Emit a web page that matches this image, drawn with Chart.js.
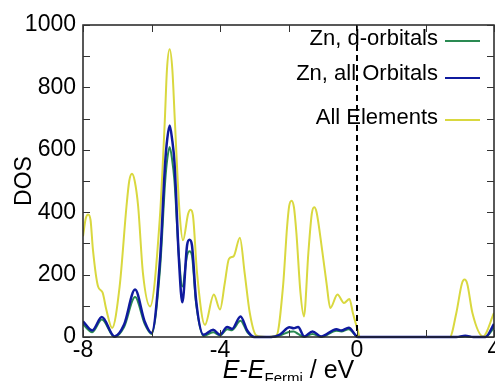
<!DOCTYPE html>
<html>
<head>
<meta charset="utf-8">
<script src="https://cdn.jsdelivr.net/npm/chart.js@4.4.1/dist/chart.umd.min.js"></script>
<style>
  html, body { margin: 0; padding: 0; background: #fff; }
  canvas { display: block; }
</style>
</head>
<body>
<canvas id="dosChart" width="495" height="381"></canvas>
<script>
// Energies (eV, relative to the Fermi level) and DOS values
const energyAll = [-8.0, -7.92, -7.85, -7.78, -7.71, -7.56, -7.43, -7.32, -7.15, -6.93, -6.73, -6.65, -6.57, -6.49,
  -6.39, -6.25, -6.04, -5.76, -5.61, -5.55, -5.47, -5.39, -5.32, -5.18, -5.08, -4.93, -4.86, -4.79, -4.67,
  -4.44, -4.18, -4.0, -3.86, -3.74, -3.6, -3.42, -3.28, -3.13, -2.94, -2.65, -2.35, -2.16, -2.04, -1.98,
  -1.91, -1.84, -1.77, -1.65, -1.55, -1.42, -1.32, -1.25, -1.18, -1.02, -0.89, -0.78, -0.57, -0.38,
  -0.22, -0.12, 0.03, 0.08, 2.71, 2.9, 3.06, 3.14, 3.22, 3.37, 3.68, 4.0];
const dosAll = [323, 380, 393, 375, 280, 162, 143, 88, 29, 162, 419, 500, 523, 500,
  419, 205, 98, 376, 697, 855, 922, 855, 697, 398, 310, 395, 408, 390, 205,
  39, 136, 88, 173, 250, 259, 318, 205, 77, 5, 0, 5, 162, 355, 420,
  437, 415, 334, 141, 66, 270, 395, 416, 400, 280, 173, 93, 136, 109,
  122, 77, 18, 0, 0, 77, 170, 184, 170, 77, 2, 77];

const energyZn = [-8.0, -7.73, -7.45, -7.08, -6.8, -6.48, -6.2, -6.0, -5.75, -5.6, -5.54, -5.47, -5.40,
  -5.33, -5.2, -5.1, -4.96, -4.89, -4.82, -4.7, -4.48, -4.2, -4.0, -3.79, -3.65, -3.4, -3.2, -3.0, -2.5,
  -2.25, -1.97, -1.85, -1.72, -1.54, -1.3, -1.05, -0.6, -0.46, -0.24, 0.03, 2.9, 3.16, 3.4, 3.75, 4.0];
const dosZnAll = [50, 21, 64, 2, 40, 152, 50, 13, 250, 560, 635, 678, 635,
  560, 250, 111, 295, 312, 295, 120, 7, 23, 7, 32, 26, 66, 20, 0, 0,
  8, 31, 28, 32, 2, 18, 2, 25, 21, 30, 0, 0, 4, 0, 0, 42];
const dosZnD = [40, 15, 56, 0, 32, 128, 42, 10, 220, 500, 570, 609, 570,
  500, 260, 162, 262, 275, 262, 110, 3, 15, 5, 25, 22, 52, 15, 0, 0,
  5, 17, 18, 10, 0, 10, 0, 20, 18, 25, 0, 0, 2, 0, 0, 30];

const FONT = "'Liberation Sans', Arial, sans-serif";

/** Zips an energy axis with a value list into {x, y} points. */
function toPoints(xs, ys) {
  return xs.map((x, i) => ({ x: x, y: ys[i] }));
}

function makeDataset(label, xs, ys, color, width, order) {
  return {
    label: label,
    data: toPoints(xs, ys),
    borderColor: color,
    borderWidth: width,
    pointRadius: 0,
    fill: false,
    cubicInterpolationMode: 'monotone',
    order: order,
    clip: { left: 0, top: 0, right: 0, bottom: 3 }
  };
}

/**
 * Draws the parts Chart.js has no option for: the Fermi level line, the boxed
 * frame with inward ticks, the right-aligned legend and the x title with subscript.
 */
const decorPlugin = {
  id: 'decor',
  afterDatasetsDraw(chart) {
    const { ctx, chartArea: a, scales: { x, y } } = chart;
    ctx.save();

    // Fermi level
    const xf = Math.round(x.getPixelForValue(0));
    ctx.strokeStyle = '#000';
    ctx.lineWidth = 2;
    ctx.setLineDash([6, 4]);
    ctx.beginPath();
    ctx.moveTo(xf, a.top);
    ctx.lineTo(xf, a.bottom);
    ctx.stroke();
    ctx.setLineDash([]);

    // frame
    ctx.strokeStyle = '#222';
    ctx.lineWidth = 1.5;
    ctx.strokeRect(a.left, a.top, a.right - a.left, a.bottom - a.top);

    // ticks pointing into the plot
    ctx.lineWidth = 1;
    ctx.strokeStyle = '#333';
    const len = 7;
    ctx.beginPath();
    x.ticks.forEach(t => {
      const px = Math.round(x.getPixelForValue(t.value)) + 0.5;
      ctx.moveTo(px, a.bottom); ctx.lineTo(px, a.bottom - len);
      ctx.moveTo(px, a.top); ctx.lineTo(px, a.top + len);
    });
    y.ticks.forEach(t => {
      const py = Math.round(y.getPixelForValue(t.value)) + 0.5;
      ctx.moveTo(a.left, py); ctx.lineTo(a.left + len, py);
      ctx.moveTo(a.right, py); ctx.lineTo(a.right - len, py);
    });
    ctx.stroke();

    // legend: text right-aligned, sample line to its right
    const rows = [
      { ds: 0, base: 45, line: 41 },
      { ds: 1, base: 80, line: 78 },
      { ds: 2, base: 124, line: 120 }
    ];
    ctx.font = '22px ' + FONT;
    ctx.fillStyle = '#000';
    ctx.textAlign = 'right';
    ctx.textBaseline = 'alphabetic';
    rows.forEach(r => {
      const ds = chart.data.datasets[r.ds];
      ctx.fillText(ds.label, a.left + 355, r.base);
      ctx.strokeStyle = ds.borderColor;
      ctx.lineWidth = 2;
      ctx.beginPath();
      ctx.moveTo(a.left + 362, r.line);
      ctx.lineTo(a.left + 397, r.line);
      ctx.stroke();
    });

    // x title: E-E_Fermi / eV
    const parts = [
      { t: 'E', f: 'italic 25px ' + FONT, dy: 0 },
      { t: '-', f: '25px ' + FONT, dy: 0 },
      { t: 'E', f: 'italic 25px ' + FONT, dy: 0 },
      { t: 'Fermi', f: '15px ' + FONT, dy: 5 },
      { t: ' / eV', f: '25px ' + FONT, dy: 0 }
    ];
    ctx.textAlign = 'left';
    let total = 0;
    parts.forEach(p => { ctx.font = p.f; p.w = ctx.measureText(p.t).width; total += p.w; });
    let cx = (a.left + a.right) / 2 - total / 2;
    parts.forEach(p => {
      ctx.font = p.f;
      ctx.fillText(p.t, cx, 378 + p.dy);
      cx += p.w;
    });

    ctx.restore();
  }
};

const tickFont = { family: FONT, size: 23 };

new Chart(document.getElementById('dosChart'), {
  type: 'line',
  data: {
    datasets: [
      makeDataset('Zn, d-orbitals', energyZn, dosZnD, '#2a8a52', 2, 1),
      makeDataset('Zn, all Orbitals', energyZn, dosZnAll, '#0f1a9e', 2.5, 0),
      makeDataset('All Elements', energyAll, dosAll, '#d9d83f', 2, 2)
    ]
  },
  options: {
    responsive: false,
    animation: false,
    layout: { padding: { top: 25, right: 1, left: 0, bottom: 0 } },
    plugins: {
      legend: { display: false },
      tooltip: { enabled: false }
    },
    scales: {
      x: {
        type: 'linear',
        min: -8,
        max: 4,
        grid: { display: false, drawTicks: false },
        border: { display: false },
        ticks: {
          stepSize: 2,
          autoSkip: false,
          maxRotation: 0,
          padding: 0,
          color: '#000',
          font: tickFont,
          callback: v => (v % 4 === 0 ? v : '')
        },
        afterFit: s => { s.height = 44; s.paddingLeft = 0; s.paddingRight = 0; }
      },
      y: {
        min: 0,
        max: 1000,
        grid: { display: false, drawTicks: false },
        border: { display: false },
        ticks: {
          stepSize: 100,
          autoSkip: false,
          padding: 7,
          color: '#000',
          font: tickFont,
          callback: v => (v % 200 === 0 ? v : '')
        },
        title: {
          display: true,
          text: 'DOS',
          color: '#000',
          font: { family: FONT, size: 23 },
          padding: { top: 11, bottom: 0 }
        },
        afterFit: s => { s.width = 83; s.paddingTop = 0; s.paddingBottom = 0; }
      }
    }
  },
  plugins: [decorPlugin]
});
</script>
</body>
</html>
